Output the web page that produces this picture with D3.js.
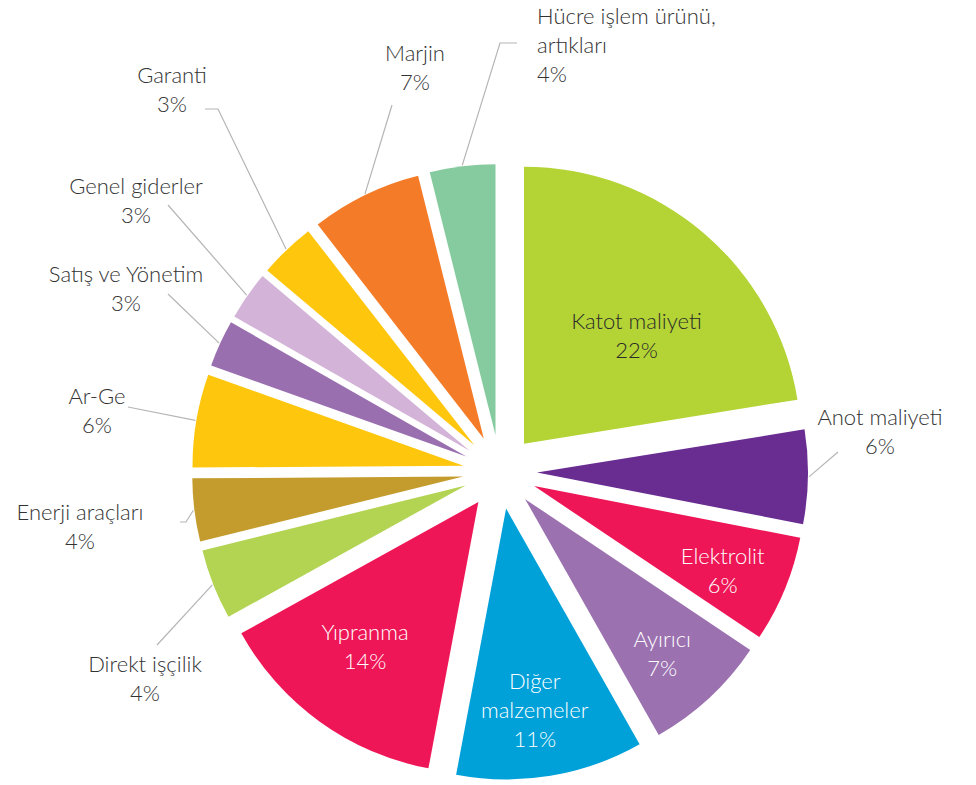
<!DOCTYPE html>
<html>
<head>
<script src="https://cdn.jsdelivr.net/npm/d3@7"></script>
<style>
  body { margin: 0; background: #fff; }
  svg text { font-family: Lato, "Open Sans", sans-serif; font-weight: 300; font-size: 22px; }
</style>
</head>
<body>
<svg id="chart" width="976" height="785"></svg>
<script>
// slice data, clockwise from 12 o'clock
const categories = ["Katot maliyeti", "Anot maliyeti", "Elektrolit", "Ayırıcı", "Diğer malzemeler",
  "Yıpranma", "Direkt işçilik", "Enerji araçları", "Ar-Ge", "Satış ve Yönetim",
  "Genel giderler", "Garanti", "Marjin", "Hücre işlem ürünü, artıkları"];
const values = [22.45, 5.6, 6.35, 7.4, 11.15, 14.0, 4.2, 3.75, 5.55, 2.8, 2.9, 3.35, 6.6, 3.9];
const colors = ["#b4d335", "#692c91", "#ee1656", "#9b71b0", "#00a0d8", "#ee1656", "#b3d453",
  "#c49c2d", "#fec60c", "#9a6faf", "#d3b3d7", "#fec60c", "#f47b27", "#86cba0"];

const w = 976, h = 785;
const cx = 500, cy = 472;
const R = 271;
const explode = 37;
const lineH = 29;
// the first slice is drawn a little bigger than the rest
const radiusOf = i => i === 0 ? 277 : R;

// labels drawn inside the slice: distance from slice tip plus a nudge, text colour, wrapped lines
const inside = {
  0: {r: 155, dx: 12, dy: 12, fill: "#2b2b2b"},
  2: {r: 206, dx: -2, dy: 8, fill: "#fff"},
  3: {r: 206, dx: -3, dy: 6, fill: "#fff"},
  4: {r: 205, dx: -5, dy: 2, fill: "#fff", lines: ["Diğer", "malzemeler"]},
  5: {r: 185, dx: -5, dy: -3, fill: "#fff"}
};

// labels outside: text position and leader line bend points
const outside = {
  1: {x: 880, y: 420, anchor: "middle", pts: [[838, 452]]},
  6: {x: 145, y: 667, anchor: "middle", pts: [[157, 645]]},
  7: {x: 80, y: 515, anchor: "middle", pts: [[186, 522], [180, 522]]},
  8: {x: 97, y: 399, anchor: "middle", pts: [[128, 407]]},
  9: {x: 126, y: 277, anchor: "middle", pts: [[168, 294]]},
  10: {x: 136, y: 189, anchor: "middle", pts: [[168, 205]]},
  11: {x: 172, y: 78, anchor: "middle", pts: [[218, 109], [205, 109]]},
  12: {x: 415, y: 56, anchor: "middle", pts: [[392, 105]]},
  13: {x: 537, y: 19, anchor: "start", lines: ["Hücre işlem ürünü,", "artıkları"], pts: [[500, 43], [517, 43]]}
};

const data = categories.map((c, i) => ({name: c, value: values[i], color: colors[i], i: i}));

const svg = d3.select("#chart").attr("viewBox", [0, 0, w, h]);

const pie = d3.pie().sort(null).value(d => d.value).startAngle(0).endAngle(2 * Math.PI);
const arcs = pie(data);
const arc = d3.arc().innerRadius(0).outerRadius(d => radiusOf(d.data.i));

const mid = d => (d.startAngle + d.endAngle) / 2;
const tip = d => [cx + explode * Math.sin(mid(d)), cy - explode * Math.cos(mid(d))];
const pct = v => Math.round(v) + "%";

// leader lines first so slices sit on top
svg.append("g")
    .selectAll("path")
    .data(arcs.filter(d => outside[d.data.i]))
    .join("path")
    .attr("fill", "none")
    .attr("stroke", "#b5b5b5")
    .attr("stroke-width", 1.2)
    .attr("d", d => {
        const t = tip(d);
        const a = mid(d);
        const r = radiusOf(d.data.i) + 1;
        const start = [t[0] + r * Math.sin(a), t[1] - r * Math.cos(a)];
        return d3.line()([start].concat(outside[d.data.i].pts));
    });

svg.append("g")
    .selectAll("path")
    .data(arcs)
    .join("path")
    .attr("transform", d => `translate(${tip(d)})`)
    .attr("fill", d => d.data.color)
    .attr("d", arc);

// inside labels
arcs.filter(d => inside[d.data.i]).forEach(d => {
    const cfg = inside[d.data.i];
    const t = tip(d);
    const a = mid(d);
    const px = t[0] + cfg.r * Math.sin(a) + cfg.dx;
    const py = t[1] - cfg.r * Math.cos(a) + cfg.dy;
    const lines = (cfg.lines || [d.data.name]).concat([pct(d.data.value)]);
    const y0 = py - (lines.length - 1) * lineH / 2;
    svg.append("text")
        .attr("text-anchor", "middle")
        .attr("fill", cfg.fill)
        .selectAll("tspan")
        .data(lines)
        .join("tspan")
        .attr("x", px)
        .attr("y", (l, k) => y0 + k * lineH)
        .attr("dominant-baseline", "middle")
        .text(l => l);
});

// outside labels
arcs.filter(d => outside[d.data.i]).forEach(d => {
    const cfg = outside[d.data.i];
    const lines = (cfg.lines || [d.data.name]).concat([pct(d.data.value)]);
    svg.append("text")
        .attr("text-anchor", cfg.anchor)
        .attr("fill", "#333")
        .selectAll("tspan")
        .data(lines)
        .join("tspan")
        .attr("x", cfg.x)
        .attr("y", (l, k) => cfg.y + k * lineH)
        .attr("dominant-baseline", "middle")
        .text(l => l);
});
</script>
</body>
</html>
